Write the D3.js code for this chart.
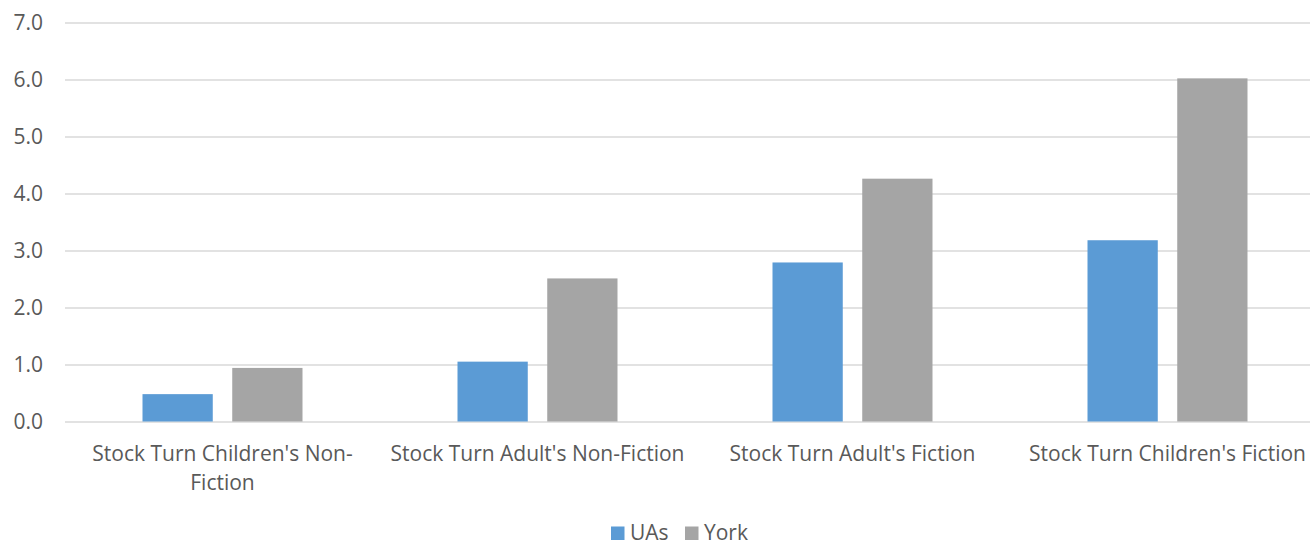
<!DOCTYPE html>
<html>
<head>
<meta charset="utf-8">
<script src="https://cdn.jsdelivr.net/npm/d3@7/dist/d3.min.js"></script>
<style>
  html, body { margin: 0; padding: 0; background: #fff; }
  svg { display: block; font-family: "Open Sans", "Noto Sans", sans-serif; }
</style>
</head>
<body>
<svg id="chart" width="1310" height="545"></svg>
<script>
const categories = [
  "Stock Turn Children's Non-Fiction",
  "Stock Turn Adult's Non-Fiction",
  "Stock Turn Adult's Fiction",
  "Stock Turn Children's Fiction"
];
const seriesNames = ["UAs", "York"];
const uasValues = [0.48, 1.05, 2.79, 3.18];
const yorkValues = [0.94, 2.51, 4.26, 6.02];
const yTicks = [0, 1, 2, 3, 4, 5, 6, 7];
const colors = ["#5B9BD5", "#A5A5A5"];

(function () {
const svg = d3.select("#chart");
const plotLeft = 65, plotRight = 1325, plotTop = 22.5, plotBottom = 421.5;
const textColor = "#595959";
const fontSize = 21;

const x0 = d3.scaleBand().domain(categories).range([plotLeft, plotRight]).paddingInner(0).paddingOuter(0);
const inner = d3.scaleBand().domain(seriesNames).range([77.5, 315 - 77.5]).paddingInner(0.217);
const y = d3.scaleLinear().domain([0, 7]).range([plotBottom, plotTop]);

// gridlines
const grid = svg.append("g")
  .attr("transform", `translate(${plotLeft},0)`)
  .call(d3.axisLeft(y).tickValues(yTicks).tickSize(-(plotRight - plotLeft)).tickFormat(""));
grid.select(".domain").remove();
grid.selectAll("line").attr("stroke", "#D9D9D9").attr("stroke-width", 1.3);

// y labels
const yAxis = svg.append("g")
  .attr("transform", `translate(${plotLeft},0)`)
  .call(d3.axisLeft(y).tickValues(yTicks).tickSize(0).tickPadding(22).tickFormat(d3.format(".1f")));
yAxis.select(".domain").remove();
yAxis.selectAll("text").attr("fill", textColor).style("font-size", fontSize + "px")
  .style("font-family", "'Open Sans', sans-serif");

// bars
const data = categories.map((c, i) => ({ cat: c, vals: [uasValues[i], yorkValues[i]] }));
const groups = svg.append("g").selectAll("g").data(data).join("g")
  .attr("transform", d => `translate(${x0(d.cat)},0)`);
groups.selectAll("rect").data(d => d.vals.map((v, j) => ({ name: seriesNames[j], v, j })))
  .join("rect")
  .attr("x", d => inner(d.name))
  .attr("width", inner.bandwidth())
  .attr("y", d => y(d.v))
  .attr("height", d => y(0) - y(d.v))
  .attr("fill", d => colors[d.j]);

// x axis labels
const xAxis = svg.append("g")
  .attr("transform", `translate(0,${plotBottom})`)
  .call(d3.axisBottom(x0).tickSize(0).tickPadding(24.5));
xAxis.select(".domain").remove();
xAxis.selectAll("text").attr("fill", textColor).style("font-size", fontSize + "px")
  .style("font-family", "'Open Sans', sans-serif")
  .each(function(d) {
    const t = d3.select(this);
    const maxW = 305;
    if (this.getComputedTextLength() > maxW) {
      const idx = d.lastIndexOf("-", d.length - 2);
      const first = idx > 0 ? d.slice(0, idx + 1) : d.slice(0, d.lastIndexOf(" "));
      const second = idx > 0 ? d.slice(idx + 1) : d.slice(d.lastIndexOf(" ") + 1);
      t.text(null);
      t.append("tspan").attr("x", 0).attr("dy", "0.71em").text(first);
      t.append("tspan").attr("x", 0).attr("dy", 29).text(second);
      t.attr("dy", null);
    }
  });

// legend
const legend = svg.append("g").attr("transform", `translate(0,540)`);
const items = [{ name: "UAs", x: 611 }, { name: "York", x: 685 }];
items.forEach((it, i) => {
  legend.append("rect").attr("x", it.x).attr("y", -13.5).attr("width", 13.5).attr("height", 13.5).attr("fill", colors[i]);
  legend.append("text").attr("x", it.x + 19).attr("y", 0)
    .attr("fill", textColor).style("font-size", fontSize + "px").text(it.name);
});
})();
</script>
</body>
</html>
